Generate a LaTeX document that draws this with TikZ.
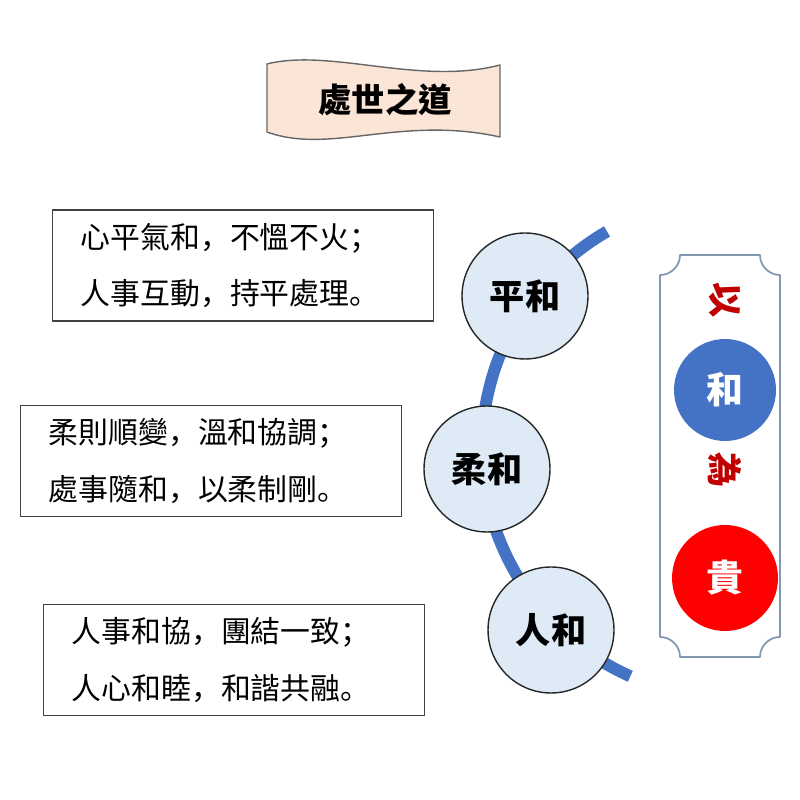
\documentclass[tikz,border=0pt]{standalone}
\usepackage{fontspec}
\setmainfont{Noto Sans CJK TC}
\newfontfamily\punct{Noto Sans CJK SC}
\definecolor{wavefill}{HTML}{FBE5D6}
\definecolor{ringblue}{HTML}{4472C4}
\definecolor{ballfill}{HTML}{DEEBF7}
\definecolor{panelline}{HTML}{8497B0}
\definecolor{darkred}{HTML}{C00000}
\def\notch{0.4cm}
\def\pcomma{{\punct ，}}
\def\psemi{{\punct ；}}
\def\pstop{{\punct 。}}

\begin{document}
\begin{tikzpicture}[x=0.02cm, y=0.02cm, line cap=round, line join=round,
	textbox/.style={draw=black!75, line width=0.8pt, anchor=west, align=left,
		text width=6.5cm, inner xsep=0.56cm, minimum height=2.22cm,
		font=\fontsize{17}{32}\selectfont},
	ball/.style={circle, draw=black!85, line width=0.8pt, fill=ballfill,
		minimum size=2.52cm, font=\bfseries\fontsize{20}{24}\selectfont},
	disc/.style={circle, text=white, font=\bfseries\fontsize{21}{24}\selectfont},
	redchar/.style={text=darkred, rotate=-90, font=\bfseries\fontsize{20}{22}\selectfont}]
	
	\useasboundingbox (0,0) rectangle (800,800);
	
	% banner
	\path [fill=wavefill, draw=black!60, line width=0.8pt]
	(267,736) .. controls (330,752) and (420,714) .. (500,735) -- (500,663)
	.. controls (400,685) and (330,645) .. (267,668) -- cycle;
	\node (title) [font=\bfseries\fontsize{19}{22}\selectfont] at (385,700) {處世之道};
	
	\node (pingtext) [textbox] at (52,534.5) {心平氣和\pcomma 不慍不火\psemi\\人事互動\pcomma 持平處理\pstop};
	\node (routext) [textbox] at (20,339) {柔則順變\pcomma 溫和協調\psemi\\處事隨和\pcomma 以柔制剛\pstop};
	\node (rentext) [textbox] at (43,140) {人事和協\pcomma 團結一致\psemi\\人心和睦\pcomma 和諧共融\pstop};
	
	\draw [ringblue, line width=6.8pt, line cap=butt] (732,352) ++(120:250)
	arc [start angle=120, end angle=246, radius=5cm];
	
	\node (ping) [ball] at (525,504) {平和};
	\node (rou) [ball] at (487,331) {柔和};
	\node (ren) [ball] at (551,170) {人和};
	
	% plaque
	\draw [panelline, line width=1pt]
	(680,545) -- (760,545) arc [start angle=180, end angle=270, radius=\notch]
	-- (780,163) arc [start angle=90, end angle=180, radius=\notch]
	-- (680,143) arc [start angle=0, end angle=90, radius=\notch]
	-- (660,525) arc [start angle=270, end angle=360, radius=\notch];
	
	\node (yi) [redchar] at (725,500) {以};
	\node (he) [disc, fill=ringblue, minimum size=2.04cm] at (725,410) {和};
	\node (wei) [redchar] at (725,330) {為};
	\node (gui) [disc, fill=red, minimum size=2.12cm] at (725,222) {貴};
	
\end{tikzpicture}
\end{document}
